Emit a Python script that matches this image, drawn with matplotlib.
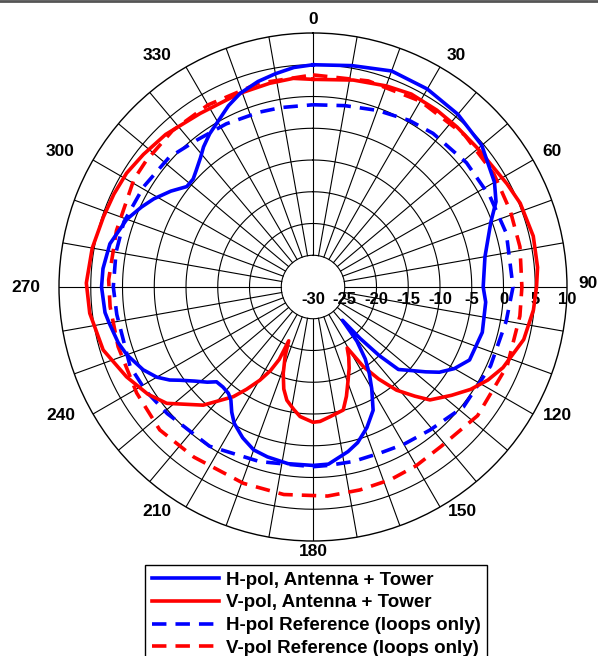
import numpy as np
import matplotlib
matplotlib.use("Agg")
import matplotlib.pyplot as plt
from matplotlib.lines import Line2D

# ---------------- data (degrees, dB) ----------------
h_tower_deg = [0, 10, 20, 30, 40, 50, 60, 65, 70, 80, 90, 95, 105, 115, 120, 124, 127, 130, 134, 136,
               137.5, 138.5, 141, 144, 147, 150, 154, 159, 164, 168, 175, 180, 188, 195, 200, 205, 210,
               213, 216, 218.5, 222, 225.5, 228, 231.5, 235, 237, 240, 244, 250, 254, 260, 263, 270,
               275, 282, 290, 295, 299, 304, 308.5, 312, 315, 319, 322, 326, 329.5, 335, 339.5, 345,
               350, 355, 360]
h_tower_db = [5.0, 5.4, 6.2, 6.0, 5.5, 4.7, 3.0, 1.8, -0.2, -2.5, -3.2, -2.7, -2.4, -2.8, -4.3, -6.0,
              -7.8, -9.5, -11.3, -15.0, -19.0, -23.0, -19.0, -16.0, -13.7, -11.5, -8.4, -6.3, -4.5,
              -3.5, -2.0, -1.9, -1.9, -2.3, -2.7, -3.8, -5.2, -6.5, -8.0, -8.6, -8.8, -8.7, -7.6,
              -6.2, -4.4, -3.1, -1.6, -0.25, 1.2, 1.9, 2.6, 3.0, 3.3, 3.2, 2.7, 1.2, -0.2, -1.35,
              -3.0, -4.6, -4.6, -4.0, -3.0, -2.0, -0.9, -0.1, 1.5, 2.6, 3.5, 4.1, 4.7, 5.0]

v_tower_deg = [0, 11, 20, 27, 35, 42, 50, 55, 62, 68, 77, 85, 90, 96, 104, 113, 118, 123, 128, 134,
               137, 141, 144.5, 147.7, 150.7, 153, 156, 159.4, 163, 166.2, 172.5, 177, 180, 185.7,
               189, 193, 196, 199, 202, 204.3, 205, 207, 209.7, 213, 216, 222.9, 231.5, 237, 244.3,
               253.3, 263.3, 271, 280, 288.5, 295, 301.4, 308, 316, 327, 339, 348, 354.6, 360]
v_tower_db = [2.7, 3.2, 3.7, 4.1, 4.0, 3.9, 3.9, 4.0, 4.6, 5.2, 5.6, 5.5, 5.2, 4.9, 4.2, 2.5, 1.2,
              -0.4, -2.3, -4.4, -6.5, -9.1, -12.2, -15.2, -19.0, -17.6, -16.0, -14.3, -12.0, -10.05,
              -9.4, -8.8, -8.7, -9.5, -10.5, -11.7, -13.3, -15.6, -18.3, -20.7, -17.4, -15.2, -13.1,
              -10.8, -8.65, -4.6, -0.57, 1.0, 2.6, 4.5, 5.4, 5.7, 5.3, 4.8, 4.6, 4.4, 3.9, 3.4, 2.6,
              2.6, 2.8, 3.0, 2.7]

h_ref_deg = [0, 10, 20, 30, 38, 51, 63, 74.5, 90, 100, 114, 128.5, 140.7, 150, 158, 167, 175, 180,
             197, 213, 229, 238, 246.5, 262, 270, 280, 289, 300.6, 312, 321.6, 332, 343, 350, 360]
h_ref_db = [-1.3, -1.0, -0.4, 0.3, 0.7, 1.1, 1.3, 1.6, 1.5, 0.9, 0.6, 0.3, -0.9, -1.4, -1.8, -1.8,
            -1.8, -1.7, -1.25, -0.1, 0.4, 1.0, 1.4, 1.2, 1.45, 1.5, 1.5, 1.0, 0.5, -0.5, -0.9, -1.2,
            -1.3, -1.3]

v_ref_deg = [0, 15, 30, 45, 58, 69, 79, 90, 98, 112, 128, 141, 150, 158, 167, 176, 188, 199.5, 215,
             227, 239, 253, 264.5, 272, 286, 301, 307, 318, 330, 345, 360]
v_ref_db = [3.4, 3.6, 3.8, 3.8, 3.6, 3.3, 3.2, 2.9, 2.9, 3.0, 2.9, 2.2, 2.5, 2.7, 2.8, 3.0, 3.0,
            2.8, 2.7, 3.0, 2.4, 2.1, 2.1, 2.2, 2.2, 2.9, 2.95, 3.1, 3.1, 3.2, 3.4]

series_labels = ["H-pol, Antenna + Tower", "V-pol, Antenna + Tower",
                 "H-pol Reference (loops only)", "V-pol Reference (loops only)"]

r_min, r_inner, r_max, r_step = -30, -25, 10, 5
radial_labels = ["-30", "-25", "-20", "-15", "-10", "-5", "0", "5", "10"]
angle_labels = [str(a) for a in range(0, 360, 30)]

# ---------------- figure ----------------
W, H = 598, 656
fig = plt.figure(figsize=(W / 100, H / 100), dpi=100)
fig.patch.set_facecolor("white")
cx, cy, R = 313, 287, 254
ax = fig.add_axes([(cx - R) / W, 1 - (cy + R) / H, 2 * R / W, 2 * R / H], projection="polar")
ax.set_theta_zero_location("N")
ax.set_theta_direction(-1)
ax.set_ylim(r_min, r_max)
ax.set_xticks([])
ax.set_yticks([])
ax.grid(False)
ax.spines["polar"].set_linewidth(1.0)
ax.spines["polar"].set_color("black")

gc = "black"
glw = 0.8
th = np.linspace(0, 2 * np.pi, 721)
for r in range(r_inner, r_max, r_step):
    ax.plot(th, np.full_like(th, r), color=gc, lw=glw, zorder=1)
for a in range(0, 360, 10):
    ax.plot([np.deg2rad(a)] * 2, [r_inner, r_max], color=gc, lw=glw, zorder=1)

lw = 2.6
dash = (0, (4, 2.5))
ax.plot(np.deg2rad(v_ref_deg), v_ref_db, color="#ff0000", lw=lw, linestyle=dash, zorder=3)
ax.plot(np.deg2rad(h_ref_deg), h_ref_db, color="#0000ff", lw=lw, linestyle=dash, zorder=3)
ax.plot(np.deg2rad(v_tower_deg), v_tower_db, color="#ff0000", lw=lw, zorder=4)
ax.plot(np.deg2rad(h_tower_deg), h_tower_db, color="#0000ff", lw=lw, zorder=4)

# radial labels along the 90-degree spoke
fprop = dict(family="Liberation Sans", weight="bold")
for i, lab in enumerate(radial_labels):
    r = r_min + i * r_step
    ax.annotate(lab, xy=(np.pi / 2, r), xytext=(0, -9), textcoords="offset points",
                ha="center", va="center", fontsize=12, annotation_clip=False, **fprop)

# angle labels (pixel layout measured)
angle_pos = {
    "0": (313, 20, "center"), "30": (447, 55, "left"), "60": (542, 151, "left"),
    "90": (578, 283, "left"), "120": (543, 416, "left"), "150": (448, 512, "left"),
    "180": (313, 551, "center"), "210": (172, 512, "right"), "240": (75, 416, "right"),
    "270": (40, 287, "right"), "300": (75, 151, "right"), "330": (172, 55, "right"),
}
for lab in angle_labels:
    x, y, ha = angle_pos[lab]
    fig.text(x / W, 1 - y / H, lab, ha=ha, va="center", fontsize=12.5, **fprop)

# legend
handles = [Line2D([], [], color="#0000ff", lw=lw),
           Line2D([], [], color="#ff0000", lw=lw),
           Line2D([], [], color="#0000ff", lw=lw, linestyle=dash),
           Line2D([], [], color="#ff0000", lw=lw, linestyle=dash)]
leg = fig.legend(handles, series_labels, loc="upper left",
                 bbox_to_anchor=(145 / W, 1 - 565 / H), bbox_transform=fig.transFigure,
                 borderaxespad=0, fancybox=False, framealpha=1, edgecolor="black",
                 handlelength=3.6, handletextpad=0.35, labelspacing=0.3, borderpad=0.35,
                 prop=dict(family="Liberation Sans", weight="bold", size=13.5))
leg.get_frame().set_linewidth(1.0)

# top window border
fig.add_artist(Line2D([0, 1], [1 - 1 / H, 1 - 1 / H], transform=fig.transFigure,
                      color="#555555", lw=2))

fig.savefig("out.png", dpi=100)
